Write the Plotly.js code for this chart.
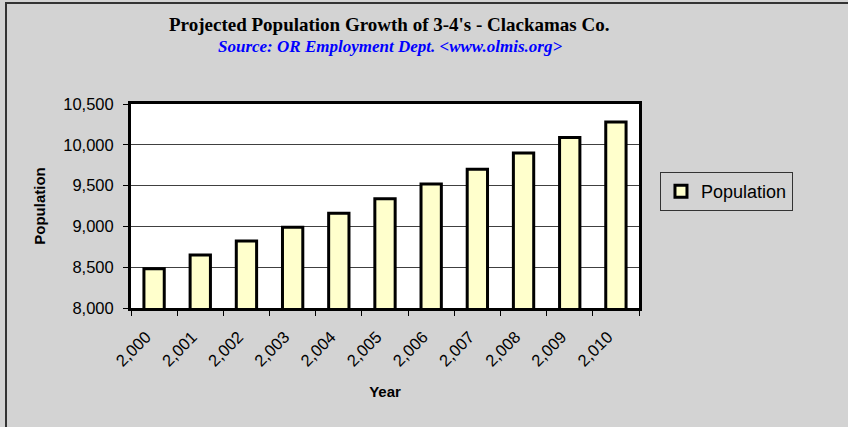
<!DOCTYPE html>
<html>
<head>
<meta charset="utf-8">
<script src="https://cdn.plot.ly/plotly-3.0.1.min.js"></script>
<style>
  html, body { margin: 0; padding: 0; background: #d3d3d3; }
  #frame { position: absolute; left: 0; top: 0; width: 848px; height: 427px; overflow: hidden; }
  #border { position: absolute; left: 5px; top: 2px; width: 860px; height: 440px;
            border-left: 2px solid #333; border-top: 2px solid #333; box-sizing: border-box; pointer-events: none; }
  #chart { position: absolute; left: 0; top: 0; width: 848px; height: 427px; }
</style>
</head>
<body>
<div id="frame">
  <div id="chart"></div>
  <div id="border"></div>
</div>
<script>
// Data
const years = ["2,000", "2,001", "2,002", "2,003", "2,004", "2,005", "2,006", "2,007", "2,008", "2,009", "2,010"];
const population = [8480, 8650, 8820, 8990, 9160, 9340, 9520, 9700, 9900, 10090, 10280];
const yTickVals = [8000, 8500, 9000, 9500, 10000, 10500];
const yTickText = ["8,000", "8,500", "9,000", "9,500", "10,000", "10,500"];

const titleText = "Projected Population Growth of 3-4's - Clackamas Co.";
const subtitleText = "Source: OR Employment Dept. &lt;www.olmis.org&gt;";

const trace = {
  type: "bar",
  name: "Population",
  x: years,
  y: population,
  marker: { color: "#ffffcc", line: { color: "#000000", width: 3 } },
  hoverinfo: "x+y"
};

const layout = {
  width: 848,
  height: 427,
  paper_bgcolor: "#d3d3d3",
  plot_bgcolor: "#ffffff",
  margin: { l: 131, r: 209, t: 104, b: 119, pad: 0 },
  bargap: 0.56,
  showlegend: true,
  legend: {
    x: 1.0413, y: 0.667, xanchor: "left", yanchor: "top",
    bgcolor: "#d3d3d3", bordercolor: "#333333", borderwidth: 1,
    font: { family: "Liberation Sans, Arial", size: 18, color: "#000" }
  },
  xaxis: {
    type: "category",
    tickangle: -45,
    ticks: "outside", ticklen: 5, tickwidth: 1, tickcolor: "#000",
    tickson: "boundaries",
    ticklabelstandoff: 10,
    ticklabelshift: -8,
    showline: true, linecolor: "#000", linewidth: 3, mirror: true,
    showgrid: false, zeroline: false,
    tickfont: { family: "Liberation Sans, Arial", size: 16.5, color: "#000" },
    title: { text: "Year", font: { family: "Liberation Sans, Arial", size: 15, color: "#000", weight: "bold" }, standoff: 18 },
    automargin: false,
    fixedrange: true
  },
  yaxis: {
    range: [8000, 10500],
    tickvals: yTickVals, ticktext: yTickText,
    ticks: "outside", ticklen: 5, tickwidth: 1, tickcolor: "#000",
    ticklabelstandoff: 6,
    showline: true, linecolor: "#000", linewidth: 3, mirror: true,
    showgrid: true, gridcolor: "#404040", gridwidth: 1,
    zeroline: false,
    tickfont: { family: "Liberation Sans, Arial", size: 16.5, color: "#000" },
    title: { text: "Population", font: { family: "Liberation Sans, Arial", size: 15, color: "#000", weight: "bold" }, standoff: 14 },
    automargin: false,
    fixedrange: true
  },
  annotations: [
    {
      text: "<b>" + titleText + "</b>",
      xref: "paper", yref: "paper", x: 0.509, y: 1.392,
      xanchor: "center", yanchor: "middle", showarrow: false,
      font: { family: "Liberation Serif, Times New Roman", size: 19, color: "#000" }
    },
    {
      text: "<b><i>" + subtitleText + "</i></b>",
      xref: "paper", yref: "paper", x: 0.509, y: 1.284,
      xanchor: "center", yanchor: "middle", showarrow: false,
      font: { family: "Liberation Serif, Times New Roman", size: 17, color: "#0000ff" }
    }
  ]
};

Plotly.newPlot("chart", [trace], layout, { displayModeBar: false, staticPlot: true });
</script>
</body>
</html>
